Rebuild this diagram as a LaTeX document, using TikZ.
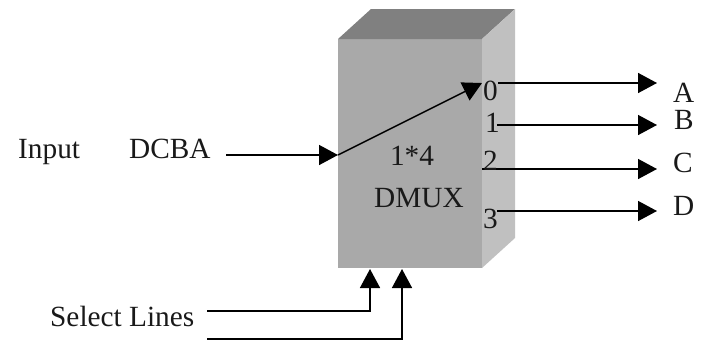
\documentclass[tikz,border=0pt]{standalone}
\usepackage{fontspec}
\setmainfont{Liberation Serif}
\usetikzlibrary{arrows.meta}
\definecolor{frontc}{HTML}{A9A9A9}
\definecolor{topc}{HTML}{808080}
\definecolor{sidec}{HTML}{C0C0C0}
\tikzset{
  wire/.style={draw=black,line width=1.5pt,-{Triangle[length=19pt,width=20pt]}},
  lbl/.style={font=\fontsize{29.3pt}{32pt}\selectfont,inner sep=0pt,text=black!90}
}
\begin{document}
\begin{tikzpicture}[x=1pt,y=-1pt]
\useasboundingbox (0,0) rectangle (701,341);
% block
\fill[frontc] (338,39) rectangle (482,268);
\fill[topc] (338,39) -- (371,9) -- (515,9) -- (482,39) -- cycle;
\fill[sidec] (482,39) -- (515,9) -- (515,238) -- (482,268) -- cycle;
% anchors
\coordinate (inS) at (226,155);
\coordinate (inM) at (338,155);
\coordinate (inT) at (482,83);
\coordinate (o0) at (498,83);  \coordinate (tA) at (657,83);
\coordinate (o1) at (497,125); \coordinate (tB) at (657,125);
\coordinate (o2) at (482,169); \coordinate (tC) at (657,169);
\coordinate (o3) at (497,211); \coordinate (tD) at (657,211);
\coordinate (s1) at (207,311); \coordinate (c1) at (370,311); \coordinate (e1) at (370,269);
\coordinate (s2) at (207,339); \coordinate (c2) at (402,339); \coordinate (e2) at (402,269);
% connectors
\draw[wire] (inS) -- (inM);
\draw[wire] (inM) -- (inT);
\draw[wire] (o0) -- (tA);
\draw[wire] (o1) -- (tB);
\draw[wire] (o2) -- (tC);
\draw[wire] (o3) -- (tD);
\draw[wire] (s1) -- (c1) -- (e1);
\draw[wire] (s2) -- (c2) -- (e2);
% labels
\node[lbl,anchor=base west] (input) at (18,158) {Input};
\node[lbl,anchor=base west] (dcba) at (129,158) {DCBA};
\node[lbl,anchor=base west] (sel) at (50,326) {Select Lines};
\node[lbl,anchor=base] (n14) at (412,165) {1*4};
\node[lbl,anchor=base] (dmux) at (419,207) {DMUX};
\node[lbl,anchor=base west] (d0) at (483,100) {0};
\node[lbl,anchor=base west] (d1) at (485,132) {1};
\node[lbl,anchor=base west] (d2) at (483,170) {2};
\node[lbl,anchor=base west] (d3) at (483,228) {3};
\node[lbl,anchor=base west] (A) at (673,102) {A};
\node[lbl,anchor=base west] (B) at (674,129) {B};
\node[lbl,anchor=base west] (C) at (673,172) {C};
\node[lbl,anchor=base west] (D) at (673,215) {D};
\end{tikzpicture}
\end{document}
